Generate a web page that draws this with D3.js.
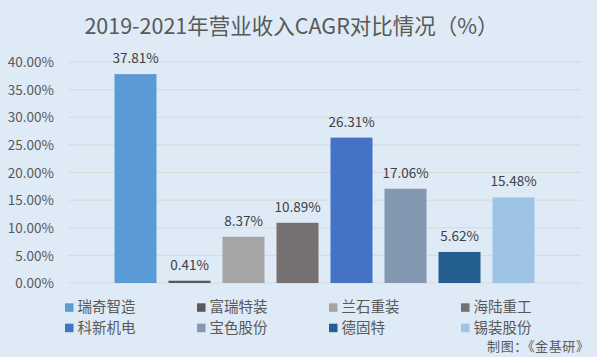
<!DOCTYPE html>
<html><head><meta charset="utf-8">
<script src="https://cdn.jsdelivr.net/npm/d3@7"></script>
<style>
html,body{margin:0;padding:0;background:#DEEAF6;}
svg{display:block;}
text{font-family:"Noto Sans CJK SC","Noto Sans",sans-serif;}
</style></head>
<body><svg id="c" width="597" height="357"></svg>
<script>
const categories = ["瑞奇智造","富瑞特装","兰石重装","海陆重工","科新机电","宝色股份","德固特","锡装股份"];
const values = [37.81, 0.41, 8.37, 10.89, 26.31, 17.06, 5.62, 15.48];
const colors = ["#5B9BD5","#595959","#A5A5A5","#767171","#4472C4","#8497B0","#255E91","#9DC3E6"];
const yTicks = [0,5,10,15,20,25,30,35,40];
const title = "2019-2021年营业收入CAGR对比情况（%）";
const source = "制图：《金基研》";

const svg = d3.select("#c");
svg.append("rect").attr("width",597).attr("height",357).attr("fill","#DEEAF6");

const x = d3.scaleBand().domain(categories).range([68,581]).paddingInner(0.222).paddingOuter(0.861);
const y = d3.scaleLinear().domain([0,40]).range([283,62]);

// gridlines
svg.append("g").selectAll("line").data(yTicks).join("line")
  .attr("x1",68).attr("x2",581)
  .attr("y1",d=>y(d)).attr("y2",d=>y(d))
  .attr("stroke","#D9D9D9").attr("stroke-width",1);

// y axis
const yAxis = d3.axisLeft(y).tickValues(yTicks).tickFormat(d=>d.toFixed(2)+"%").tickSize(0).tickPadding(0);
const ga = svg.append("g").attr("transform","translate(54,0)").call(yAxis);
ga.select(".domain").remove();
ga.selectAll("text").attr("fill","#595959").style("font-size","13.5px").attr("dy","0.35em");

// bars
svg.append("g").selectAll("rect").data(categories).join("rect")
  .attr("x",d=>x(d)).attr("width",x.bandwidth())
  .attr("y",(d,i)=>y(values[i])).attr("height",(d,i)=>y(0)-y(values[i]))
  .attr("fill",(d,i)=>colors[i]);

// labels
svg.append("g").selectAll("text").data(categories).join("text")
  .attr("x",d=>x(d)+x.bandwidth()/2)
  .attr("y",(d,i)=>y(values[i])-11)
  .attr("text-anchor","middle").attr("fill","#404040").style("font-size","13.5px")
  .text((d,i)=>values[i].toFixed(2)+"%");

// title
svg.append("text").attr("x",291.5).attr("y",34).attr("text-anchor","middle")
  .attr("fill","#595959").style("font-size","21.5px").text(title);

// legend
const lg = svg.append("g").selectAll("g").data(categories).join("g")
  .attr("transform",(d,i)=>`translate(${65+(i%4)*132},${i<4?307.3:327.7})`);
lg.append("rect").attr("x",0).attr("y",-4).attr("width",8.5).attr("height",8.5).attr("fill",(d,i)=>colors[i]);
lg.append("text").attr("x",12.5).attr("y",0).attr("dy","0.35em").attr("fill","#595959").style("font-size","14.5px").text(d=>d);

// source
svg.append("text").attr("x",487).attr("y",346.7).attr("dy","0.35em")
  .attr("textLength",102).attr("lengthAdjust","spacing")
  .attr("fill","#595959").style("font-size","13px").text(source);
</script></body></html>
